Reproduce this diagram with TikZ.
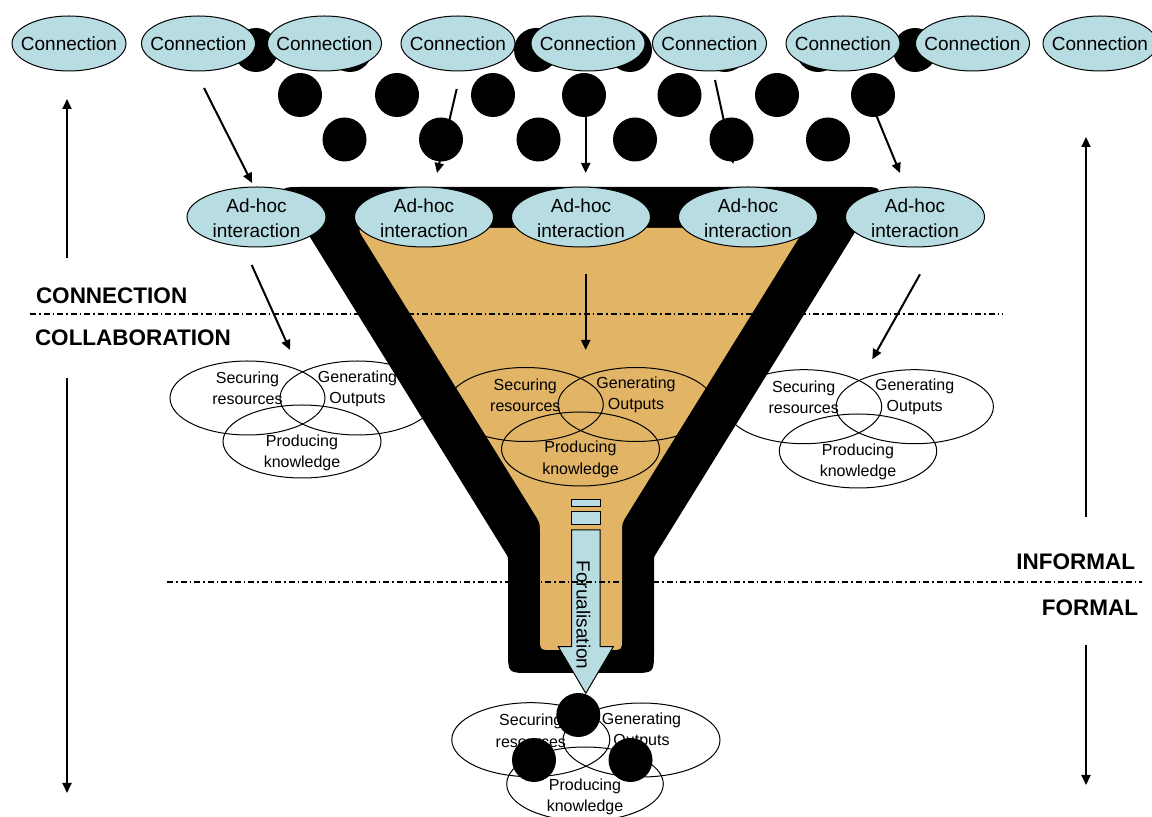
\documentclass[tikz,border=0pt]{standalone}
\usepackage{fontspec}
\setmainfont{Liberation Sans}
\usetikzlibrary{shapes.geometric,arrows.meta}
\definecolor{bubble}{HTML}{B7DDE2}
\definecolor{funnelfill}{HTML}{E1B466}
\begin{document}
\begin{tikzpicture}[x=0.5pt,y=-0.5pt,
  every node/.style={inner sep=0pt, outer sep=0pt},
  conn/.style={ellipse, draw=black, line width=0.5pt, fill=bubble, minimum width=57pt, minimum height=27.5pt},
  adhoc/.style={ellipse, draw=black, line width=0.5pt, fill=bubble, minimum width=69.5pt, minimum height=30pt},
  bigtxt/.style={font=\fontsize{9.5}{12.5}\selectfont, align=center},
  venn/.style={ellipse, draw=black, line width=0.5pt, minimum width=78pt, minimum height=37pt},
  ventxt/.style={font=\fontsize{8}{10.6}\selectfont, align=center},
  dot/.style={circle, fill=black, minimum size=22pt},
  flow/.style={line width=1pt, -{Triangle[length=5pt,width=4.5pt]}},
  zone/.style={font=\bfseries\fontsize{11.25}{13}\selectfont},
  divider/.style={line width=1pt, dash pattern=on 3pt off 1.5pt on 0.75pt off 1.5pt},
  shaft/.style={fill=bubble, draw=black, line width=0.5pt},
]
\useasboundingbox (0,0) rectangle (1152,817);
\clip (0,0) rectangle (1152,817);
\fill[white] (0,0) rectangle (1152,817);

% back row of dots, partly hidden by the connection bubbles
\foreach \x [count=\i] in {256,350,536,630,725,818,915}
  \node[dot] (u\i) at (\x,50) {};

% connection bubbles
\foreach \x [count=\i] in {69,198.5,324.5,458,588,709.5,843,972.5,1100}
  \node[conn, label={[bigtxt]center:Connection}] (c\i) at (\x,43.5) {};

% arrows from the connections down to the ad-hoc interactions
\coordinate (ta1) at (204,88);    \coordinate (tb1) at (252,183);
\coordinate (ta2) at (456.7,89);  \coordinate (tb2) at (437,173);
\coordinate (ta3) at (585.7,100); \coordinate (tb3) at (585.7,173);
\coordinate (ta4) at (715,80);    \coordinate (tb4) at (733.3,164);
\coordinate (ta5) at (865,88);    \coordinate (tb5) at (900,173);
\foreach \i in {1,...,5} \draw[flow] (ta\i) -- (tb\i);

% middle and front rows of dots
\foreach \x [count=\i] in {300,397,493,584,679.5,777,873}
  \node[dot] (m\i) at (\x,95) {};
\foreach \x [count=\i] in {344.5,441,538.5,635,731.5,828}
  \node[dot] (l\i) at (\x,139.5) {};

% collaboration outcomes outside the funnel
\node[venn, minimum width=77.5pt, label={[ventxt,yshift=4.75pt]center:{Securing\\resources}}] (Ls) at (247.5,398) {};
\node[venn, minimum width=77.5pt, label={[ventxt,yshift=4.75pt]center:{Generating\\Outputs}}] (Lg) at (357.5,398) {};
\node[venn, minimum width=79pt, minimum height=36.5pt, label={[ventxt,yshift=-5.5pt]center:{Producing\\knowledge}}] (Lp) at (302,441.5) {};

\node[venn, label={[ventxt,yshift=4.85pt]center:{Securing\\resources}}] (Rs) at (803.7,406.7) {};
\node[venn, minimum width=78.7pt, label={[ventxt,yshift=4.85pt]center:{Generating\\Outputs}}] (Rg) at (914.7,406.7) {};
\node[venn, minimum width=78.7pt, label={[ventxt,yshift=-5.6pt]center:{Producing\\knowledge}}] (Rp) at (858,451) {};

% the funnel: black wall
\fill[black] (303,187) -- (859,187) .. controls (883,187) .. (870.4,207.4)
  -- (656.1,553.6) .. controls (654,557) .. (654,561)
  -- (654,651) .. controls (654,673) .. (632,673)
  -- (530,673) .. controls (508,673) .. (508,651)
  -- (508,561) .. controls (508,557) .. (505.9,553.6)
  -- (291.6,207.4) .. controls (279,187) .. (303,187) -- cycle;
% the funnel: inside
\fill[funnelfill] (371,228) -- (791,228) .. controls (805,228) .. (797.6,239.9)
  -- (627.3,514.5) .. controls (622,523) .. (622,533)
  -- (622,638) .. controls (622,650) .. (610,650)
  -- (552,650) .. controls (540,650) .. (540,638)
  -- (540,533) .. controls (540,523) .. (534.7,514.5)
  -- (364.4,239.9) .. controls (357,228) .. (371,228) -- cycle;

% collaboration outcomes inside the funnel
\node[venn, label={[ventxt,yshift=4.75pt]center:{Securing\\resources}}] (Ms) at (525.3,404.5) {};
\node[venn, label={[ventxt,yshift=4.75pt]center:{Generating\\Outputs}}] (Mg) at (636,404.5) {};
\node[venn, minimum width=79pt, label={[ventxt,yshift=-5.15pt]center:{Producing\\knowledge}}] (Mp) at (580.5,449) {};

% arrows from the ad-hoc interactions to the outcomes
\coordinate (la1) at (251.7,265); \coordinate (lb1) at (290,350);
\coordinate (la2) at (585.7,274); \coordinate (lb2) at (585.7,350);
\coordinate (la3) at (920,274.3); \coordinate (lb3) at (872.3,359.3);
\foreach \i in {1,2,3} \draw[flow] (la\i) -- (lb\i);

% ad-hoc interaction bubbles on the rim of the funnel
\foreach \x [count=\i] in {256.5,424,581,748,915}
  \node[adhoc, label={[bigtxt,yshift=-0.75pt]center:{Ad-hoc\\interaction}}] (a\i) at (\x,217) {};

% formalisation arrow leaving the funnel neck
\filldraw[shaft] (571.7,500) rectangle (600,506.7);
\filldraw[shaft] (571.7,511.7) rectangle (600,525);
\filldraw[shaft] (571.7,530) -- (600,530) -- (600,646.7) -- (613.3,646.7)
  -- (585.8,693.3) -- (558.3,646.7) -- (571.7,646.7) -- cycle;
\node[bigtxt, rotate=-90] (formtxt) at (583.4,615) {Forualisation};

% formal outcomes below the funnel
\node[venn, minimum width=79pt, label={[ventxt,yshift=4.45pt]center:{Securing\\resources}}] (Bs) at (530.8,739.7) {};
\node[venn, minimum width=78.5pt, label={[ventxt,yshift=4.5pt]center:{Generating\\Outputs}}] (Bg) at (641.5,740) {};
\node[venn, minimum width=78.3pt, label={[ventxt,yshift=-6.25pt]center:{Producing\\knowledge}}] (Bp) at (585,784) {};
\node[dot] (b1) at (578.3,715) {};
\node[dot] (b2) at (534,760) {};
\node[dot] (b3) at (630.5,760) {};

% dividing lines
\coordinate (h1a) at (30,314);  \coordinate (h1b) at (1003,314);
\coordinate (h2a) at (167,582); \coordinate (h2b) at (1142,582);
\draw[divider] (h1a) -- (h1b);
\draw[divider] (h2a) -- (h2b);

% zone labels
\node[zone, anchor=west] (lconn) at (36,295.5) {CONNECTION};
\node[zone, anchor=west] (lcoll) at (35,337.5) {COLLABORATION};
\node[zone, anchor=east] (linf) at (1135,561.5) {INFORMAL};
\node[zone, anchor=east] (lfor) at (1138,608) {FORMAL};

% side arrows
\coordinate (s1a) at (67,258);   \coordinate (s1b) at (67,99);
\coordinate (s2a) at (67,378);   \coordinate (s2b) at (67,793);
\coordinate (s3a) at (1086,517); \coordinate (s3b) at (1086,137);
\coordinate (s4a) at (1086,645); \coordinate (s4b) at (1086,785);
\foreach \i in {1,...,4} \draw[flow] (s\i a) -- (s\i b);
\end{tikzpicture}
\end{document}
